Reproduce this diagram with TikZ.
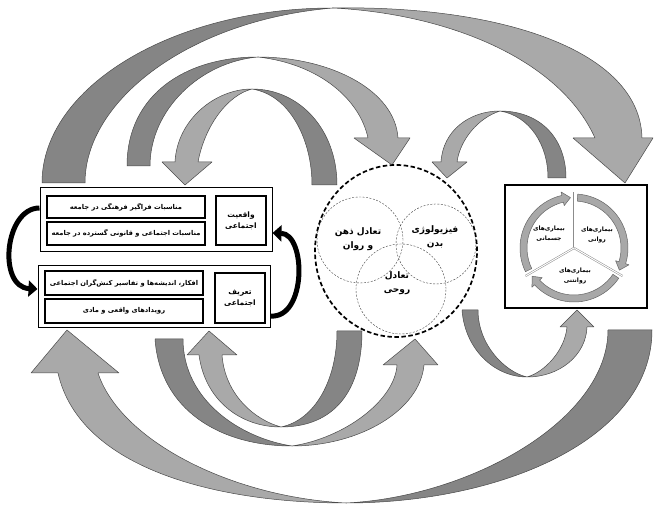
\documentclass[tikz,border=0pt]{standalone}
\usepackage{fontspec}
\usetikzlibrary{arrows.meta,shapes.geometric}
\TeXXeTstate=1
\newfontfamily\fa[Script=Arabic]{DejaVu Sans}
\newcommand{\ft}[1]{\beginR #1\endR}
\definecolor{dkg}{HTML}{858585}
\definecolor{ltg}{HTML}{A9A9A9}
\definecolor{edg}{HTML}{4A4A4A}
\definecolor{rng}{HTML}{A8A8A8}
\tikzset{
  dkpart/.style={fill=dkg,draw=edg,line width=0.5pt,line join=round},
  ltpart/.style={fill=ltg,draw=edg,line width=0.5pt,line join=round},
  obox/.style={draw=black,line width=1pt,fill=white,inner sep=0pt},
  ibox/.style={draw=black,line width=1.3pt,fill=white,inner sep=0pt,font=\fa\bfseries\fontsize{6.7}{7}\selectfont},
  lbox/.style={draw=black,line width=1.3pt,fill=white,inner sep=0pt,align=center,font=\fa\bfseries\fontsize{7.5}{11}\selectfont},
  blk/.style={draw=black,line width=5pt,-{Triangle[length=9pt,width=16pt]}},
  cir/.style={draw=black!75,dashed,dash pattern=on 2pt off 1.5pt,line width=0.4pt,circle,inner sep=0pt},
  ctext/.style={align=center,font=\fa\bfseries\fontsize{9}{14}\selectfont},
  rtext/.style={align=center,font=\fa\bfseries\fontsize{6}{10}\selectfont},
  ring/.style={fill=rng,draw=black!60,line width=0.5pt,line join=round},
  sep/.style={draw=black!45,line width=0.5pt,double=white,double distance=1pt}
}
\begin{document}
\begin{tikzpicture}[x=1pt,y=-1pt]
\useasboundingbox[fill=white] (0,0) rectangle (654,505);

% ---- arrow 1 (top big)
\path[dkpart] (42,183) .. controls (42,87) and (173,8) .. (333,8) .. controls (190,20) and (85,100) .. (85,183) -- cycle;
\path[ltpart] (333,8) .. controls (500,5) and (640,50) .. (642,138) -- (653,138) -- (625,183) -- (573,138) -- (595,138) .. controls (560,60) and (450,14) .. (333,8) -- cycle;
% ---- arrow 2
\path[dkpart] (127,166) .. controls (127,95) and (185,57) .. (258,57) .. controls (200,62) and (150,110) .. (150,166) -- cycle;
\path[ltpart] (258,57) .. controls (330,57) and (395,90) .. (398,138) -- (410,138) -- (392,165) -- (354,138) -- (368,138) .. controls (360,100) and (320,64) .. (258,57) -- cycle;
% ---- arrow 3
\path[dkpart] (337,185) .. controls (337,130) and (300,89) .. (252,89) .. controls (290,95) and (312,140) .. (312,185) -- cycle;
\path[ltpart] (252,89) .. controls (215,89) and (177,120) .. (175,162) -- (162,162) -- (185,185) -- (212,162) -- (198,162) .. controls (205,125) and (228,95) .. (252,89) -- cycle;
% ---- arrow 4
\path[dkpart] (566,178) .. controls (566,138) and (540,111) .. (500,111) .. controls (530,116) and (548,145) .. (548,178) -- cycle;
\path[ltpart] (500,111) .. controls (470,111) and (443,130) .. (441,162) -- (432,162) -- (447,178) -- (467,162) -- (457,162) .. controls (460,140) and (478,118) .. (500,111) -- cycle;
% ---- arrow 5 (bottom big)
\path[dkpart] (346,503) .. controls (500,503) and (652,440) .. (652,330) -- (608,330) .. controls (608,420) and (470,497) .. (346,503) -- cycle;
\path[ltpart] (58,373) .. controls (80,470) and (220,503) .. (346,503) .. controls (230,497) and (120,440) .. (98,373) -- (119,373) -- (67,330) -- (31,373) -- cycle;
% ---- arrow 6
\path[dkpart] (155,339) .. controls (160,410) and (220,446) .. (292,446) .. controls (240,438) and (183,400) .. (183,339) -- cycle;
\path[ltpart] (292,446) .. controls (360,446) and (420,410) .. (424,365) -- (438,365) -- (415,339) -- (383,365) -- (397,365) .. controls (395,400) and (345,438) .. (292,446) -- cycle;
% ---- arrow 7
\path[dkpart] (362,331) .. controls (362,390) and (335,427) .. (281,427) .. controls (315,420) and (337,380) .. (337,331) -- cycle;
\path[ltpart] (281,427) .. controls (240,427) and (205,400) .. (199,355) -- (187,355) -- (209,331) -- (237,355) -- (222,355) .. controls (225,395) and (255,420) .. (281,427) -- cycle;
% ---- arrow 8
\path[dkpart] (462,310) .. controls (465,350) and (495,377) .. (527,377) .. controls (505,372) and (478,345) .. (478,310) -- cycle;
\path[ltpart] (527,377) .. controls (560,377) and (586,355) .. (587,327) -- (594,327) -- (577,310) -- (560,327) -- (567,327) .. controls (565,350) and (545,372) .. (527,377) -- cycle;

% ---- left boxes
\node[obox,minimum width=232pt,minimum height=64pt] (vaq) at (156,220) {};
\node[ibox,minimum width=158pt,minimum height=22pt] (b1) at (126,207) {\ft{مناسبات فراگیر فرهنگی در جامعه}};
\node[ibox,minimum width=158pt,minimum height=23pt] (b2) at (126,233.5) {\ft{مناسبات اجتماعی و قانونی گسترده در جامعه}};
\node[lbox,minimum width=50pt,minimum height=49pt] (l1) at (241,220.5) {\ft{واقعیت}\\\ft{اجتماعی}};

\node[obox,minimum width=232pt,minimum height=62pt] (tar) at (154,297) {};
\node[ibox,minimum width=158pt,minimum height=24pt] (b3) at (124,283) {\ft{افکار، اندیشه‌ها و تفاسیر کنش‌گران اجتماعی}};
\node[ibox,minimum width=158pt,minimum height=24pt] (b4) at (124,311) {\ft{رویدادهای واقعی و مادی}};
\node[lbox,minimum width=50pt,minimum height=50pt] (l2) at (240,298) {\ft{تعریف}\\\ft{اجتماعی}};

% black connectors
\draw[blk] ([yshift=12pt]vaq.west) .. controls +(-35,0) and +(-40,-2) .. ([yshift=8pt]tar.west);
\draw[blk] ([yshift=-19pt]tar.east) .. controls +(36,3) and +(34,1) .. ([yshift=-13pt]vaq.east);

% ---- centre
\node[cir,minimum size=86pt] (ca) at (360,240) {};
\node[cir,minimum size=80pt] (cb) at (436,244) {};
\node[cir,minimum size=90pt] (cc) at (401,289) {};
\node[draw=black,ellipse,line width=1.7pt,dash pattern=on 4.5pt off 2.5pt,minimum width=162pt,minimum height=172pt,inner sep=0pt] (ce) at (396,251) {};
\node[ctext] (ta) at (358,239) {\ft{تعادل ذهن}\\\ft{و روان}};
\node[ctext] (tb) at (435,237) {\ft{فیزیولوژی}\\\ft{بدن}};
\node[ctext] (tc) at (397,283) {\ft{تعادل}\\\ft{روحی}};

% ---- right box
\node[draw=black,line width=2pt,fill=white,minimum width=142pt,minimum height=123pt,inner sep=0pt] (rb) at (576,246.5) {};
\begin{scope}[shift={(574,248)},y=1pt]
\draw[sep] (0,0) -- (90:56);
\draw[sep] (0,0) -- (-30:56);
\draw[sep] (0,0) -- (210:56);
\filldraw[ring] (206:54) arc[start angle=206,end angle=103,radius=54] -- (103:57.5) -- (94:50.5) -- (103:43.5) -- (103:47) arc[start angle=103,end angle=206,radius=47] -- cycle;
\filldraw[ring] (86:54) arc[start angle=86,end angle=-17,radius=54] -- (-17:57.5) -- (-26:50.5) -- (-17:43.5) -- (-17:47) arc[start angle=-17,end angle=86,radius=47] -- cycle;
\filldraw[ring] (-34:54) arc[start angle=-34,end angle=-137,radius=54] -- (-137:57.5) -- (-146:50.5) -- (-137:43.5) -- (-137:47) arc[start angle=-137,end angle=-34,radius=47] -- cycle;
\end{scope}
\node[rtext] (r1) at (597,235) {\ft{بیماری‌های}\\\ft{روانی}};
\node[rtext] (r2) at (549,234) {\ft{بیماری‌های}\\\ft{جسمانی}};
\node[rtext] (r3) at (575,276) {\ft{بیماری‌های}\\\ft{روانتنی}};
\end{tikzpicture}
\end{document}
